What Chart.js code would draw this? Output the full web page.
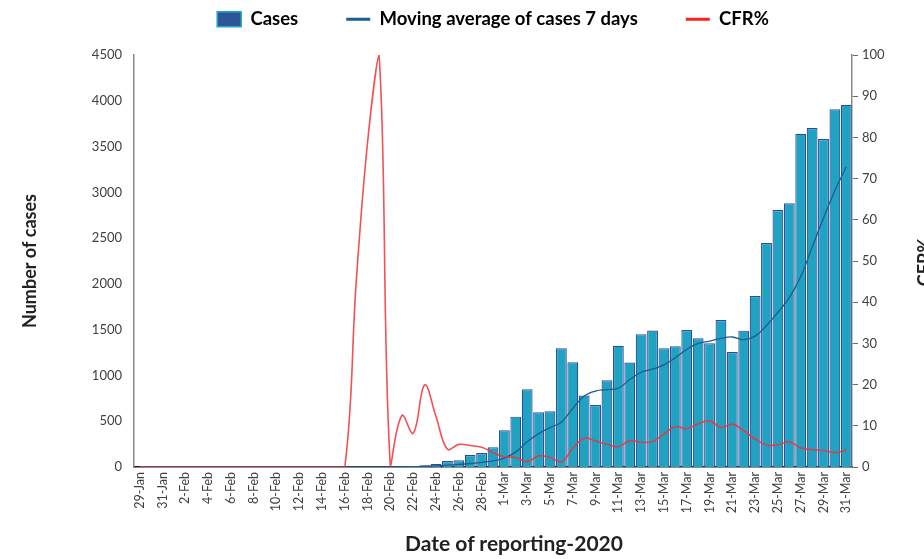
<!DOCTYPE html>
<html>
<head>
<meta charset="utf-8">
<script src="https://cdn.jsdelivr.net/npm/chart.js@4"></script>
<style>
  body { margin: 0; overflow: hidden; background: #fff; }
  #wrap { position: relative; width: 924px; height: 559px; overflow: hidden; }
  .xtitle {
    position: absolute; left: 514px; top: 530px; transform: translateX(-50%);
    font: bold 21px Lato, "Open Sans", sans-serif; color: #222; white-space: nowrap;
  }
  .y2title {
    position: absolute; left: 898px; top: 252px; width: 50px; height: 20px; line-height: 20px;
    text-align: center; transform: rotate(-90deg);
    font: bold 18px Lato, "Open Sans", sans-serif; color: #222;
  }
</style>
</head>
<body>
<div id="wrap">
  <canvas id="chart" width="924" height="559"></canvas>
  <div class="xtitle">Date of reporting-2020</div>
  <div class="y2title">CFR%</div>
</div>
<script>
// Dates of reporting (2020)
const dates = [
    '29-Jan', '30-Jan', '31-Jan',
    '1-Feb', '2-Feb', '3-Feb', '4-Feb', '5-Feb', '6-Feb', '7-Feb', '8-Feb', '9-Feb', '10-Feb',
    '11-Feb', '12-Feb', '13-Feb', '14-Feb', '15-Feb', '16-Feb', '17-Feb', '18-Feb', '19-Feb', '20-Feb',
    '21-Feb', '22-Feb', '23-Feb', '24-Feb', '25-Feb', '26-Feb', '27-Feb', '28-Feb', '29-Feb',
    '1-Mar', '2-Mar', '3-Mar', '4-Mar', '5-Mar', '6-Mar', '7-Mar', '8-Mar', '9-Mar', '10-Mar',
    '11-Mar', '12-Mar', '13-Mar', '14-Mar', '15-Mar', '16-Mar', '17-Mar', '18-Mar', '19-Mar', '20-Mar',
    '21-Mar', '22-Mar', '23-Mar', '24-Mar', '25-Mar', '26-Mar', '27-Mar', '28-Mar', '29-Mar', '30-Mar', '31-Mar'
];

// Daily cases
const cases = [
    0, 0, 0,
    0, 0, 0, 0, 0, 0, 0, 0, 0, 0,
    0, 0, 0, 0, 0, 0, 0, 0, 0, 1,
    8, 10, 18, 33, 66, 73, 131, 152, 216,
    402, 550, 848, 597, 608, 1296, 1143, 781, 676, 947,
    1325, 1141, 1451, 1490, 1296, 1318, 1497, 1406, 1351, 1606,
    1256, 1489, 1868, 2447, 2807, 2880, 3640, 3702, 3582, 3907, 3957
];

// Moving average of cases, 7 days
const movingAvg = [
    0, 0, 0,
    0, 0, 0, 0, 0, 0, 0, 0, 0, 0,
    0, 0, 0, 0, 0, 0, 0, 0, 0, 1,
    2, 4, 7, 12, 20, 28, 38, 50, 68,
    98, 165, 275, 365, 430, 490, 640, 775, 830, 845,
    860, 955, 1035, 1068, 1115, 1195, 1285, 1350, 1375, 1405,
    1420, 1390, 1430, 1545, 1690, 1850, 2080, 2400, 2720, 3020, 3280
];

// Case fatality rate (%)
const cfr = [
    0, 0, 0,
    0, 0, 0, 0, 0, 0, 0, 0, 0, 0,
    0, 0, 0, 0, 0, 0, 45, 79, 100, 0,
    12.5, 8.2, 19.9, 12.2, 4.3, 5.5, 5.2, 4.8, 3.5,
    2.5, 2.3, 1.3, 2.7, 2.3, 1.3, 4.5, 7.0, 6.3, 5.5,
    4.9, 6.4, 6.0, 6.2, 8.0, 9.8, 9.3, 10.5, 11.2, 9.6,
    10.4, 8.8, 6.8, 5.3, 5.4, 6.1, 4.6, 4.2, 4.0, 3.5, 4.1
];

const legendFill = ['#2e5596', '#1b5e8e', '#ff2020'];
const legendStroke = ['#27a5c9', '#1b5e8e', '#ff2020'];
const legendGap = 48;

// legend band fills the space above the plot; items drawn near the top
const legendTweak = {
    id: 'legendTweak',
    beforeInit(chart) {
        const legend = chart.legend;
        const fit = legend.fit;
        legend.fit = function () {
            fit.bind(legend)();
            this.height = 55;
        };
        const draw = legend.draw;
        legend.draw = function () {
            const top = this.top;
            this.top = top + 10 - legendGap;
            draw.bind(legend)();
            this.top = top;
        };
    }
};

const ctx = document.getElementById('chart').getContext('2d');
const chart = new Chart(ctx, {
    data: {
        labels: dates,
        datasets: [{
            type: 'bar',
            label: 'Cases',
            data: cases,
            backgroundColor: '#20a3c3',
            borderColor: '#2d4c9a',
            borderWidth: 1.2,
            barPercentage: 0.95,
            categoryPercentage: 1.0,
            yAxisID: 'y',
            order: 3
        }, {
            type: 'line',
            label: 'Moving average of cases 7 days',
            data: movingAvg,
            borderColor: '#1b5e8e',
            borderWidth: 1.3,
            pointRadius: 0,
            tension: 0.4,
            fill: false,
            yAxisID: 'y',
            order: 2
        }, {
            type: 'line',
            label: 'CFR%',
            data: cfr,
            borderColor: 'rgba(240, 50, 55, 0.85)',
            borderWidth: 1.6,
            pointRadius: 0,
            tension: 0.4,
            fill: false,
            yAxisID: 'y2',
            order: 1
        }]
    },
    options: {
        responsive: false,
        animation: false,
        layout: { padding: { left: 15, right: 0, top: 0, bottom: 42 } },
        plugins: {
            tooltip: { enabled: false },
            legend: {
                position: 'top',
                fullSize: false,
                labels: {
                    usePointStyle: true,
                    pointStyleWidth: 24,
                    boxHeight: 15,
                    padding: legendGap,
                    color: '#222',
                    font: { family: 'Lato, "Open Sans", sans-serif', size: 18.5, weight: 'bold' },
                    generateLabels: (c) => c.data.datasets.map((ds, i) => ({
                        text: ds.label,
                        fillStyle: legendFill[i],
                        strokeStyle: legendStroke[i],
                        lineWidth: i === 0 ? 1.5 : 3,
                        pointStyle: i === 0 ? 'rect' : 'line',
                        hidden: false,
                        datasetIndex: i
                    }))
                }
            }
        },
        scales: {
            x: {
                offset: true,
                grid: { display: false, drawTicks: false },
                border: { display: true, color: '#1a1a1a', width: 1.5 },
                ticks: {
                    autoSkip: false,
                    minRotation: 90,
                    maxRotation: 90,
                    padding: 5,
                    color: '#404040',
                    font: { family: 'Lato, "Open Sans", sans-serif', size: 12.5 },
                    callback: (val, idx) => (idx % 2 === 0 ? dates[idx] : '')
                },
                afterFit: (s) => { s.height = 50; }
            },
            y: {
                position: 'left',
                min: 0,
                max: 4500,
                grid: { display: false, drawTicks: false },
                border: { display: true, color: '#8a8a8a', width: 1.5 },
                ticks: {
                    stepSize: 500,
                    padding: 12,
                    color: '#404040',
                    font: { family: 'Lato, "Open Sans", sans-serif', size: 13 },
                    callback: (v) => String(v)
                },
                title: {
                    display: true,
                    text: 'Number of cases',
                    color: '#222',
                    font: { family: 'Lato, "Open Sans", sans-serif', size: 18, weight: 'bold' }
                },
                afterFit: (s) => { s.width = 119; }
            },
            y2: {
                position: 'right',
                min: 0,
                max: 100,
                grid: { display: true, drawOnChartArea: false, drawTicks: true, tickLength: 6, color: '#6a6a6a' },
                border: { display: true, color: '#8a8a8a', width: 1.5 },
                ticks: {
                    stepSize: 10,
                    padding: 4,
                    color: '#404040',
                    font: { family: 'Lato, "Open Sans", sans-serif', size: 13 }
                },
                afterFit: (s) => { s.width = 72; }
            }
        }
    },
    plugins: [legendTweak]
});
</script>
</body>
</html>
